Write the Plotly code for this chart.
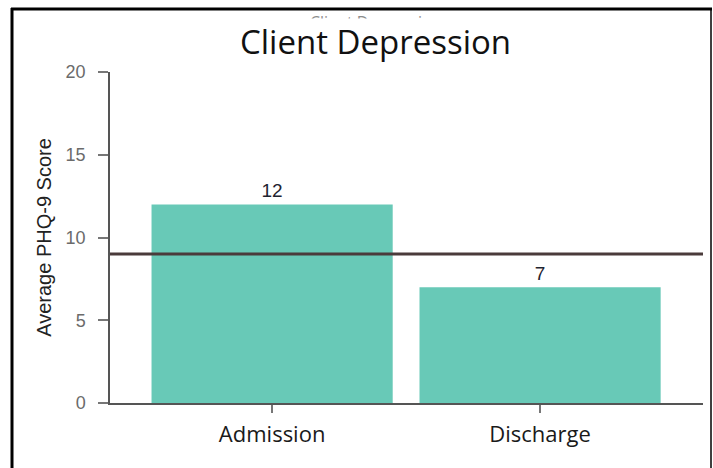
import plotly.graph_objects as go

categories = ["Admission", "Discharge"]
values = [12, 7]
target_value = 9
y_ticks = [0, 5, 10, 15, 20]
title_text = "Client Depression"
y_title = "Average PHQ-9 Score"

W, H = 713, 468
L, R, T, B = 110, 10, 72, 65
pw, ph = W - L - R, H - T - B

def px(x):
    return (x - L) / pw

def py(y):
    return (H - B - y) / ph

fig = go.Figure()
fig.add_trace(go.Bar(
    x=categories, y=values, width=0.9,
    marker=dict(color="#68c9b7", line=dict(width=0)),
    text=[str(v) for v in values], textposition="outside",
    textfont=dict(family="Liberation Sans, Arial", size=19, color="#1f2430"),
    cliponaxis=False, showlegend=False,
))

shapes = [
    # reference line
    dict(type="line", xref="paper", x0=0, x1=1, yref="y", y0=target_value, y1=target_value,
         line=dict(color="#4a3b3b", width=3), layer="above"),
    # frame borders
    dict(type="line", xref="paper", yref="paper", x0=px(11), x1=px(712), y0=py(9), y1=py(9),
         line=dict(color="black", width=3)),
    dict(type="line", xref="paper", yref="paper", x0=px(12), x1=px(12), y0=py(8), y1=py(470),
         line=dict(color="black", width=3)),
    dict(type="line", xref="paper", yref="paper", x0=px(711), x1=px(711), y0=py(8), y1=py(470),
         line=dict(color="black", width=1.5)),
]

annotations = [
    dict(text=title_text, xref="paper", yref="paper", x=px(375), y=py(9), xanchor="center", yanchor="top",
         showarrow=False, font=dict(family="Open Sans", size=16, color="#8c8c8c")),
    dict(text=title_text, xref="paper", yref="paper", x=px(375), y=py(41), xanchor="center", yanchor="middle",
         showarrow=False, font=dict(family="Open Sans", size=33, color="#111"), bgcolor="white", borderpad=0),
]

fig.update_layout(
    width=W, height=H,
    margin=dict(l=L, r=R, t=T, b=B),
    paper_bgcolor="white", plot_bgcolor="white",
    shapes=shapes, annotations=annotations,
    xaxis=dict(
        range=[-0.605, 1.608], showline=True, linecolor="#555", linewidth=1.5,
        ticks="outside", ticklen=8, tickcolor="#777", tickwidth=1.5, ticklabelstandoff=3,
        tickfont=dict(family="Open Sans", size=22, color="#1a1a1a"), showgrid=False, zeroline=False,
    ),
    yaxis=dict(
        range=[0, 20], tickvals=y_ticks, showline=True, linecolor="#555", linewidth=1.5,
        ticks="outside", ticklen=10, tickcolor="#777", tickwidth=1.5, ticklabelstandoff=9,
        tickfont=dict(family="Liberation Sans, Arial", size=18, color="#6b6b6b"),
        showgrid=False, zeroline=False,
        title=dict(text=y_title, font=dict(family="Liberation Sans, Arial", size=20, color="#222"), standoff=9),
    ),
)

fig.write_html("out.html")
